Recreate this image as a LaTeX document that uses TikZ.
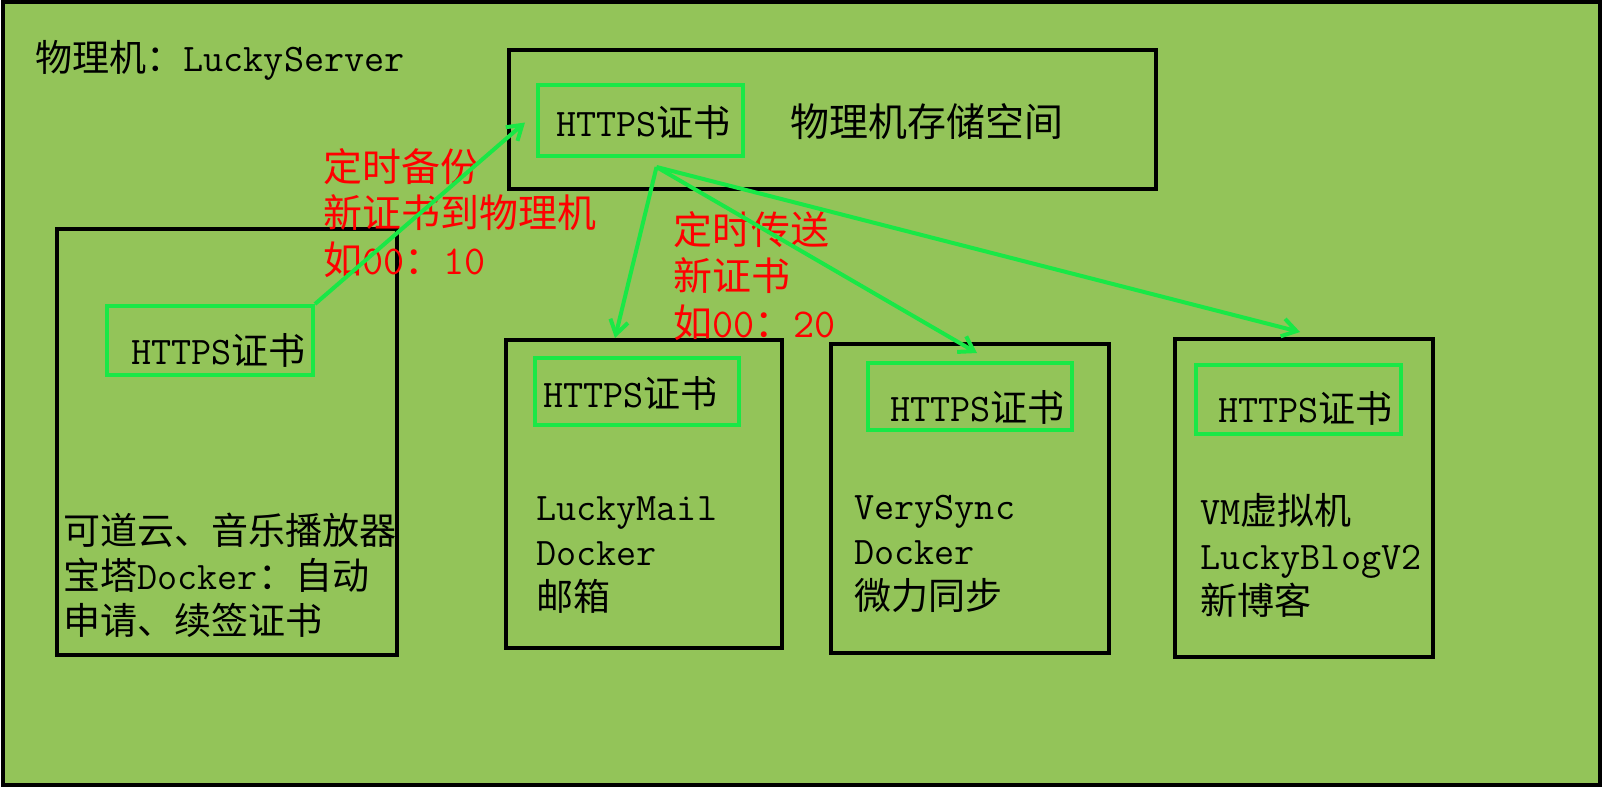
\documentclass[tikz,border=0pt]{standalone}
\usepackage{fontspec}
\usepackage{tikz}
\usetikzlibrary{arrows.meta}
\usetikzlibrary{calc}
\newfontfamily\cjk{Noto Sans CJK SC}[Scale = 0.95]
\newcommand{\zh}[1]{{\cjk #1}}
\definecolor{hostgreen}{RGB}{147,196,89}
\definecolor{certgreen}{RGB}{25,232,70}
\definecolor{mred}{RGB}{255,0,0}
\tikzset{box/.style = {draw, line width = 2pt, inner sep = 0}}
\tikzset{cert/.style = {draw = certgreen, line width = 2pt, inner sep = 0}}
\tikzset{txt/.style = {anchor = west, align = left, inner sep = 0,
                       font = \ttfamily\fontsize{19.5}{22.5}\selectfont}}
\tikzset{note/.style = {txt, text = mred,
                        font = \ttfamily\fontsize{20.5}{23.25}\selectfont}}
\tikzset{push/.style = {certgreen, line width = 2pt,
                        -{Straight Barb[length = 7pt, width = 9pt]}}}

\begin{document}
\begin{tikzpicture}[x = 0.5pt, y = -0.5pt]
    \useasboundingbox (0, 0) rectangle (1602, 787);
    \draw [fill = hostgreen, line width = 2pt] (2.5, 2) rectangle (1599.5, 785);
    \node [txt] (title) at (35, 60) {\zh{物理机：}LuckyServer};

    % storage of the host
    \node [box, minimum width = 323.5pt, minimum height = 69.5pt] (store) at (832.5, 119.5) {};
    \node [cert, minimum width = 102.5pt, minimum height = 35.5pt] (storecert) at (640.5, 120.5) {};
    \node [txt] (storecerttxt) at (556, 122) {HTTPS\zh{证书}};
    \node [txt, font = \fontsize{20.5}{23.25}\selectfont] (storetxt) at (790, 122) {\zh{物理机存储空间}};

    % containers and vm
    \node [box, minimum width = 170pt, minimum height = 213pt] (host) at (227, 442) {};
    \node [cert, minimum width = 103pt, minimum height = 34.5pt] (hostcert) at (210, 340.5) {};
    \node [txt] (hostcerttxt) at (131, 350) {HTTPS\zh{证书}};
    \node [txt] (hosttxt) at (63, 575)
      {\zh{可道云、音乐播放器}\\\zh{宝塔}Docker\zh{：自动}\\\zh{申请、续签证书}};

    \node [box, minimum width = 138pt, minimum height = 154pt] (mail) at (644, 494) {};
    \node [cert, minimum width = 102pt, minimum height = 33.5pt] (mailcert) at (637, 391.5) {};
    \node [txt] (mailcerttxt) at (543, 393) {HTTPS\zh{证书}};
    \node [txt] (mailtxt) at (536, 555) {LuckyMail\\Docker\\\zh{邮箱}};

    \node [box, minimum width = 139pt, minimum height = 154.5pt] (sync) at (970, 498.5) {};
    \node [cert, minimum width = 102pt, minimum height = 33.5pt] (synccert) at (970, 396.5) {};
    \node [txt] (synccerttxt) at (890, 407) {HTTPS\zh{证书}};
    \node [txt] (synctxt) at (854, 554) {VerySync\\Docker\\\zh{微力同步}};

    \node [box, minimum width = 129pt, minimum height = 159pt] (vm) at (1304, 498) {};
    \node [cert, minimum width = 102.5pt, minimum height = 34.5pt] (vmcert) at (1298.5, 399.5) {};
    \node [txt] (vmcerttxt) at (1218, 408) {HTTPS\zh{证书}};
    \node [txt] (vmtxt) at (1200, 555) {VM\zh{虚拟机}\\LuckyBlogV2\\\zh{新博客}};

    % backup and push
    \node [note] (backup) at (323, 213) {\zh{定时备份}\\\zh{新证书到物理机}\\\zh{如}00\zh{：}10};
    \node [note] (send) at (673, 276) {\zh{定时传送}\\\zh{新证书}\\\zh{如}00\zh{：}20};

    \draw [push] (hostcert.north east) -- ($(storecert.west) + (-11, 2)$);
    \coordinate (src) at ($(storecert.south) + (16, 9)$);
    \draw [push] (src) -- ($(mail.north) + (-29, 0)$);
    \draw [push] (src) -- ($(sync.north) + (7, 11)$);
    \draw [push] (src) -- ($(vm.north) + (-4, -5)$);
  \end{tikzpicture}
\end{document}
